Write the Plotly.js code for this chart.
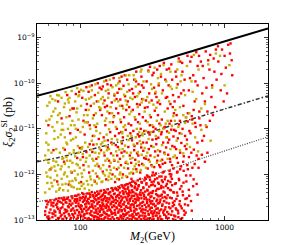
<!DOCTYPE html>
<html><head><meta charset="utf-8">
<script src="https://cdn.plot.ly/plotly-3.0.1.min.js"></script>
<style>html,body{margin:0;padding:0;background:#fff}#c{width:298px;height:245px}</style>
</head><body><div id="c"></div>
<script>
// Limit curves (M2 in GeV, xi2*sigma2^SI in pb)
const solidM = [50, 100, 286, 760, 2000];
const solidS = [5.3e-11, 9.6e-11, 2.55e-10, 6.4e-10, 1.6e-9];
const dashDotM = [50, 74, 214, 570, 2000];
const dashDotS = [1.9e-12, 2.43e-12, 5.94e-12, 1.58e-11, 5.3e-11];
const dotM = [50, 165, 748, 2000];
const dotS = [2.52e-13, 5.05e-13, 2.43e-12, 6.67e-12];

// Red points below the dotted curve
const redLow = [
[57,1.3e-13],[59,2.2e-13],[60,1.05e-13],[62,1.7e-13],[58,2.6e-13],[61,1.45e-13],[63,2.4e-13],[60,1.2e-13],
[64,1.15e-13],[65,2.0e-13],[66,2.7e-13],[67,1.5e-13],[68,1.0e-13],[69,2.3e-13],[70,1.75e-13],[65,1.35e-13],[68,2.9e-13],[70,1.1e-13],
[72,1.6e-13],[72,2.5e-13],[73,1.2e-13],[74,3.0e-13],[75,1.9e-13],[76,1.05e-13],[76,2.2e-13],[77,1.4e-13],[78,2.8e-13],[78,1.7e-13],[74,1.3e-13],
[80,1.1e-13],[80,2.4e-13],[81,1.55e-13],[82,3.1e-13],[83,1.9e-13],[84,1.25e-13],[84,2.7e-13],[85,1.02e-13],[86,2.1e-13],[86,1.6e-13],[87,3.3e-13],[88,1.35e-13],[88,2.3e-13],
[89,1.8e-13],[90,1.15e-13],[91,2.6e-13],[92,1.4e-13],[92,3.4e-13],[93,2.0e-13],[94,1.05e-13],[95,2.9e-13],[95,1.65e-13],[96,1.25e-13],[97,2.3e-13],[97,3.6e-13],[98,1.5e-13],[99,1.9e-13],[99,2.7e-13],
[101,1.2e-13],[101,2.1e-13],[102,3.0e-13],[103,1.5e-13],[104,1.02e-13],[104,2.5e-13],[105,3.7e-13],[106,1.75e-13],[106,1.3e-13],[107,2.8e-13],[108,2.2e-13],[108,1.1e-13],[109,3.3e-13],[110,1.6e-13],[110,1.95e-13],[111,2.6e-13],[111,1.4e-13],[103,3.9e-13],
[113,1.7e-13],[113,2.9e-13],[114,1.1e-13],[115,2.3e-13],[115,3.8e-13],[116,1.4e-13],[117,1.95e-13],[117,3.2e-13],[118,1.03e-13],[119,2.6e-13],[119,1.55e-13],[120,4.1e-13],[121,2.1e-13],[121,1.25e-13],[122,3.5e-13],[123,1.8e-13],[124,2.45e-13],[124,1.15e-13],[125,3.0e-13],[125,1.45e-13],
[127,2.0e-13],[127,1.2e-13],[128,3.4e-13],[129,1.6e-13],[129,2.7e-13],[130,1.02e-13],[131,4.2e-13],[131,2.25e-13],[132,1.35e-13],[133,3.0e-13],[133,1.8e-13],[134,1.1e-13],[135,2.5e-13],[135,3.8e-13],[136,1.5e-13],[137,2.1e-13],[137,1.25e-13],[138,3.2e-13],[139,1.7e-13],[139,4.4e-13],[140,2.8e-13],[140,1.05e-13],
[142,1.3e-13],[142,2.4e-13],[143,3.6e-13],[144,1.7e-13],[145,1.02e-13],[145,2.9e-13],[146,4.5e-13],[147,2.0e-13],[147,1.45e-13],[148,3.3e-13],[149,1.15e-13],[150,2.6e-13],[150,1.85e-13],[151,4.0e-13],[152,1.35e-13],[152,2.2e-13],[153,3.0e-13],[154,1.6e-13],[155,1.08e-13],[155,4.7e-13],[156,2.45e-13],[157,1.95e-13],[157,3.7e-13],
[159,1.25e-13],[159,2.8e-13],[160,1.7e-13],[161,4.1e-13],[162,2.2e-13],[162,1.05e-13],[163,3.4e-13],[164,1.5e-13],[165,2.5e-13],[165,5.0e-13],[166,1.9e-13],[167,1.15e-13],[168,3.0e-13],[168,4.4e-13],[169,1.4e-13],[170,2.1e-13],[171,3.7e-13],[171,1.02e-13],[172,2.7e-13],[173,1.65e-13],[174,4.9e-13],[175,1.3e-13],[176,2.35e-13],[177,3.2e-13],
[179,1.8e-13],[179,4.6e-13],[180,1.1e-13],[181,2.6e-13],[182,3.5e-13],[183,1.45e-13],[184,2.1e-13],[185,5.3e-13],[186,1.03e-13],[186,3.0e-13],[187,1.7e-13],[188,4.0e-13],[189,2.4e-13],[190,1.25e-13],[191,3.3e-13],[192,1.95e-13],[193,5.8e-13],[193,1.55e-13],[194,2.8e-13],[195,1.07e-13],[196,4.3e-13],[197,2.2e-13],[198,1.35e-13],[199,3.7e-13],[199,5.1e-13],
[201,1.2e-13],[202,2.5e-13],[203,4.8e-13],[204,1.6e-13],[205,3.2e-13],[206,1.02e-13],[207,2.0e-13],[208,6.0e-13],[209,1.4e-13],[210,3.8e-13],[211,2.7e-13],[212,1.1e-13],[213,1.85e-13],[214,5.2e-13],[215,2.3e-13],[216,1.5e-13],[217,3.5e-13],[218,4.4e-13],[219,1.25e-13],[220,2.9e-13],[221,6.5e-13],[222,1.75e-13],[223,2.15e-13],[223,4.0e-13],[205,1.3e-13],
[225,1.6e-13],[226,3.0e-13],[227,1.05e-13],[228,5.5e-13],[229,2.2e-13],[230,1.35e-13],[231,4.1e-13],[232,2.6e-13],[233,7.0e-13],[234,1.2e-13],[235,1.9e-13],[236,3.4e-13],[237,1.5e-13],[238,5.0e-13],[239,2.4e-13],[240,1.08e-13],[241,3.8e-13],[242,1.75e-13],[243,6.2e-13],[244,2.8e-13],[245,1.3e-13],[246,4.6e-13],[247,2.05e-13],[248,1.02e-13],[249,3.2e-13],[250,7.4e-13],
[252,1.4e-13],[253,2.7e-13],[254,5.8e-13],[255,1.15e-13],[257,3.6e-13],[258,1.8e-13],[259,8.0e-13],[260,2.3e-13],[262,1.03e-13],[263,4.5e-13],[264,1.55e-13],[265,3.0e-13],[267,6.6e-13],[268,2.0e-13],[269,1.25e-13],[270,3.9e-13],[272,2.5e-13],[273,5.2e-13],[274,1.7e-13],[275,1.08e-13],[276,3.3e-13],[278,7.4e-13],[279,2.15e-13],[280,1.4e-13],[281,4.2e-13],[281,8.5e-13],
[283,1.2e-13],[284,3.1e-13],[286,1.9e-13],[287,6.0e-13],[289,1.02e-13],[290,2.5e-13],[291,4.6e-13],[293,1.55e-13],[294,9.0e-13],[296,3.6e-13],[297,2.1e-13],[298,1.3e-13],[300,5.4e-13],[301,2.8e-13],[303,1.7e-13],[304,7.6e-13],[305,1.1e-13],[307,4.0e-13],[308,2.3e-13],[309,1.45e-13],[311,3.3e-13],[312,6.8e-13],[313,1.85e-13],[315,2.6e-13],[315,9.5e-13],
[317,1.35e-13],[318,4.3e-13],[320,2.2e-13],[322,1.05e-13],[323,7.0e-13],[325,3.0e-13],[327,1.6e-13],[329,5.6e-13],[330,2.0e-13],[332,1.25e-13],[334,1.05e-12],[335,3.7e-13],[337,2.6e-13],[339,1.45e-13],[341,8.2e-13],[342,4.8e-13],[344,1.8e-13],[346,1.1e-13],[348,3.3e-13],[350,6.2e-13],[352,2.35e-13],[354,1.6e-13],
[357,1.2e-13],[359,2.8e-13],[361,5.0e-13],[363,1.7e-13],[365,9.0e-13],[367,3.6e-13],[369,1.03e-13],[371,2.2e-13],[373,6.8e-13],[375,1.45e-13],[377,4.2e-13],[379,1.15e-12],[381,2.6e-13],[383,1.3e-13],[385,7.8e-13],[387,3.2e-13],[389,1.9e-13],[392,5.6e-13],[394,1.1e-13],[396,2.4e-13],
[400,1.5e-13],[403,3.5e-13],[406,7.2e-13],[409,1.1e-13],[412,2.3e-13],[415,1.2e-12],[418,4.6e-13],[421,1.8e-13],[424,9.0e-13],[427,1.3e-13],[430,3.0e-13],[433,5.8e-13],[436,2.0e-13],[439,1.05e-13],[442,1.35e-12],[445,4.0e-13],
[450,2.6e-13],[455,1.2e-13],[459,6.4e-13],[463,1.7e-13],[468,1.1e-12],[472,3.4e-13],[477,1.4e-13],[482,8.0e-13],[486,2.2e-13],[491,4.8e-13],[495,1.05e-13],[499,1.5e-12],
[505,1.8e-13],[512,4.2e-13],[520,1.2e-12],[527,1.3e-13],[535,2.9e-13],[543,7.0e-13],[551,1.6e-12],[558,2.1e-13],
[568,3.4e-13],[580,9.5e-13],[592,1.6e-13],[605,5.5e-13],[620,1.7e-12],
[640,6.2e-13],[660,1.4e-12],[650,3.6e-13],[730,1.9e-12]
];
const redLow2 = [
[58,1.9e-13],[71,1.1e-13],[63,2.1e-13],[85,2.6e-13],[67,1.25e-13],[79,1.5e-13],[60,2.5e-13],[89,1.3e-13],[74,2.4e-13],[66,1.6e-13],[82,2.0e-13],[59,1.15e-13],[77,3.1e-13],[70,2.6e-13],[87,1.7e-13],[64,1.4e-13],[81,2.9e-13],[69,1.9e-13],[75,1.05e-13],[84,2.25e-13],[62,2.7e-13],[78,1.2e-13],[73,1.8e-13],[88,3.0e-13],[65,2.35e-13],[80,1.65e-13],[61,1.08e-13],[76,2.75e-13],[86,1.1e-13],[68,2.15e-13],[72,1.45e-13],[83,1.35e-13],[57,1.55e-13],[79,2.45e-13],[71,3.0e-13],
[93,2.4e-13],[118,1.3e-13],[104,3.2e-13],[137,2.0e-13],[96,1.1e-13],[126,3.9e-13],[110,2.3e-13],[145,1.5e-13],[99,3.1e-13],[131,1.15e-13],[115,1.8e-13],[141,3.4e-13],[91,1.6e-13],[122,2.6e-13],[107,1.35e-13],[149,4.2e-13],[102,2.0e-13],[134,2.95e-13],[112,1.05e-13],[128,1.7e-13],[94,3.4e-13],[139,1.25e-13],[117,3.6e-13],[106,2.65e-13],[144,2.2e-13],[98,1.45e-13],[124,1.02e-13],[133,3.7e-13],[109,1.9e-13],[147,1.1e-13],[92,2.85e-13],[120,2.2e-13],[138,4.3e-13],[114,2.9e-13],[101,1.75e-13],[129,1.45e-13],[143,2.7e-13],[97,2.05e-13],[123,3.3e-13],[111,3.8e-13],[136,1.6e-13],[105,1.2e-13],[148,3.1e-13],[119,1.55e-13],[95,2.6e-13],[132,2.4e-13],[108,3.05e-13],[140,1.85e-13],[116,1.02e-13],[127,2.85e-13],[100,1.3e-13],[146,3.9e-13],[121,1.95e-13],[135,1.05e-13],[113,2.45e-13],[103,1.6e-13],[142,2.05e-13],[125,1.2e-13],[130,3.5e-13],[150,1.35e-13],
[163,2.3e-13],[211,1.4e-13],[182,4.5e-13],[238,2.9e-13],[155,1.25e-13],[197,3.1e-13],[224,5.8e-13],[171,1.05e-13],[245,1.7e-13],[189,2.05e-13],[158,3.9e-13],[206,4.2e-13],[231,1.15e-13],[176,2.8e-13],[215,2.4e-13],[162,1.6e-13],[249,4.9e-13],[193,1.2e-13],[227,3.4e-13],[168,4.6e-13],[202,1.75e-13],[240,6.5e-13],[185,3.6e-13],[153,2.05e-13],[219,1.05e-13],[178,1.9e-13],[234,2.15e-13],[196,5.4e-13],[166,3.2e-13],[209,2.95e-13],[243,1.35e-13],[174,1.45e-13],[228,4.5e-13],[191,2.6e-13],[157,1.7e-13],[217,3.9e-13],[183,1.08e-13],[247,3.6e-13],[200,2.2e-13],[169,2.5e-13],[236,1.6e-13],[187,5.0e-13],[213,6.1e-13],[160,1.02e-13],[222,1.9e-13],[180,3.35e-13],[205,1.3e-13],[242,2.45e-13],[173,3.8e-13],[229,7.0e-13],[194,1.65e-13],[152,2.7e-13],[214,3.3e-13],[186,2.3e-13],[246,1.05e-13],[199,4.0e-13],[165,1.35e-13],[233,4.1e-13],[208,1.95e-13],[177,4.9e-13],[220,2.65e-13],[190,1.15e-13],[239,5.4e-13],[159,3.0e-13],[226,1.25e-13],[203,5.7e-13],[172,2.0e-13],[248,2.8e-13],[184,1.55e-13],[212,4.8e-13],
[262,3.5e-13],[318,1.2e-13],[287,6.4e-13],[356,2.5e-13],[271,1.45e-13],[334,4.4e-13],[389,8.8e-13],[298,2.0e-13],[253,5.5e-13],[345,1.05e-13],[306,3.2e-13],[378,1.6e-13],[281,1.02e-13],[329,7.8e-13],[267,2.4e-13],[364,5.6e-13],[312,1.55e-13],[395,3.0e-13],[258,1.25e-13],[341,2.8e-13],[292,4.4e-13],[373,1.1e-12],[276,3.6e-13],[322,2.25e-13],[351,1.4e-13],[302,8.6e-13],[384,4.0e-13],[265,6.8e-13],[337,1.75e-13],[289,2.8e-13],[369,2.05e-13],[310,5.8e-13],[256,2.1e-13],[346,6.6e-13],[283,1.65e-13],[393,1.2e-13],[315,3.9e-13],[273,5.0e-13],[359,3.4e-13],[297,1.35e-13],[327,9.6e-13],[380,2.6e-13],[260,4.0e-13],[338,1.25e-13],[305,2.55e-13],[367,7.4e-13],[278,2.9e-13],[349,4.8e-13],[294,1.08e-13],[386,1.7e-13],[319,6.0e-13],[268,1.7e-13],[332,2.05e-13],[361,1.05e-13],[300,3.8e-13],[376,5.2e-13],[285,8.0e-13],[342,3.5e-13],[254,3.0e-13],[313,1.02e-13],[398,6.2e-13],[279,1.2e-13],[353,9.0e-13],[325,1.45e-13],[290,2.35e-13],[371,3.1e-13],[308,1.85e-13],[264,1.02e-13],[344,2.3e-13],[381,1.3e-13],
[412,1.9e-13],[468,4.0e-13],[431,8.0e-13],[523,1.6e-13],[405,5.0e-13],[489,2.6e-13],[447,1.25e-13],[541,9.5e-13],[418,3.1e-13],[502,5.5e-13],[459,1.8e-13],[427,1.0e-12],[565,4.6e-13],[478,1.15e-13],[438,2.4e-13],[514,3.5e-13],[409,1.35e-13],[492,1.3e-12],[453,6.2e-13],[531,2.2e-13],[421,6.8e-13],[475,1.6e-13],[556,1.3e-12],[441,4.1e-13],[508,1.1e-13],[463,2.9e-13],[416,1.02e-12],[548,3.0e-13],[484,7.5e-13],[433,1.55e-13],[519,6.6e-13],[456,1.0e-13],[497,2.0e-13],[424,4.5e-13],[537,1.45e-13],[471,1.15e-12],[446,2.15e-13],[585,2.6e-13],[610,7.8e-13],[598,1.4e-12]
];

// Red points between the dotted and dash-dotted curves
const redMid = [
[62,1.3e-12],[69,7.0e-13],[77,1.9e-12],[83,6.0e-13],[87,1.1e-12],
[95,2.3e-12],[101,6.8e-13],[105,1.6e-12],[110,3.1e-12],
[115,1.1e-12],[121,3.1e-12],[126,7.0e-13],[129,2.2e-12],[134,1.5e-12],[139,3.4e-12],
[143,1.15e-12],[147,2.6e-12],[151,7.8e-13],[155,3.9e-12],[159,1.5e-12],[163,2.9e-12],[167,1.0e-12],[172,2.0e-12],[176,4.4e-12],
[179,1.3e-12],[182,4.0e-12],[185,7.8e-13],[188,2.2e-12],[191,1.6e-12],[194,4.8e-12],[197,1.0e-12],[202,3.2e-12],[206,1.8e-12],[211,8.8e-13],[215,4.0e-12],[220,2.6e-12],
[225,1.8e-12],[228,5.6e-12],[232,1.05e-12],[236,3.4e-12],[240,2.1e-12],[244,1.3e-12],[248,4.8e-12],[252,2.6e-12],[256,6.8e-12],[260,1.1e-12],[264,3.9e-12],[268,1.7e-12],[272,5.0e-12],[277,2.3e-12],
[284,2.2e-12],[288,5.0e-12],[293,1.35e-12],[298,3.6e-12],[302,7.5e-12],[306,2.6e-12],[311,1.6e-12],[316,5.8e-12],[320,8.6e-12],[325,1.45e-12],[330,3.2e-12],[336,4.6e-12],[341,2.0e-12],[347,6.4e-12],[352,1.6e-12],
[357,3.2e-12],[363,7.6e-12],[369,2.1e-12],[375,5.0e-12],[381,1.05e-11],[387,1.8e-12],[393,3.9e-12],[399,8.8e-12],[406,2.7e-12],[413,5.8e-12],[420,1.9e-12],[427,9.6e-12],[434,4.2e-12],[442,6.8e-12],
[450,4.0e-12],[458,9.0e-12],[466,2.3e-12],[474,6.2e-12],[483,1.25e-11],[492,3.0e-12],[501,4.9e-12],[511,1.0e-11],[521,2.5e-12],[532,7.0e-12],[543,3.6e-12],[555,1.45e-11],
[566,2.4e-12],[580,8.0e-12],[596,1.6e-11],[612,3.5e-12],[630,1.1e-11],[648,5.0e-12],[668,1.7e-11],[695,2.7e-12],
[720,7.0e-12],[760,3.0e-12],[790,1.5e-11],[830,2.0e-11],
[104,2.4e-12],[131,9.0e-13],[158,2.0e-12],[174,6.8e-13],[193,3.0e-12],[214,1.35e-12],[237,4.2e-12],[255,1.6e-12],[273,3.3e-12],[297,2.1e-12],[318,1.1e-12],[335,6.0e-12],[358,1.45e-12],[382,3.0e-12],[405,5.0e-12],[432,1.6e-12],[461,3.6e-12],[488,8.0e-12],[516,1.9e-12],[548,5.8e-12],[588,3.0e-12],[625,1.35e-11],[660,2.2e-12],[700,5.5e-12],[750,1.1e-11],[180,2.6e-12],[226,8.0e-13],[247,2.9e-12],[290,9.5e-13],[310,4.2e-12],[345,2.6e-12],[372,1.7e-12],[398,6.5e-12],[418,2.2e-12],[447,9.5e-12],[475,1.8e-12],[530,4.2e-12],[570,9.0e-12],[640,2.6e-12],[680,1.2e-11]
];

// Red points above the dash-dotted curve
const redHigh = [
[60,1.2e-11],[65,3.4e-12],[70,4.0e-11],[74,1.7e-11],[78,3.5e-12],[81,5.5e-11],[85,8.0e-12],[88,2.8e-11],
[90,2.8e-11],[93,5.8e-11],[96,9.5e-12],[99,3.8e-12],[103,4.8e-11],[105,1.5e-11],[107,7.5e-12],[110,8.2e-11],[111,3.5e-11],
[112,1.4e-11],[114,6.5e-11],[116,4.6e-12],[118,3.2e-11],[120,9.0e-11],[122,7.0e-12],[124,2.0e-11],[126,5.5e-11],[128,1.1e-11],[130,4.0e-11],[132,1.0e-10],[134,6.0e-12],[137,2.6e-11],[140,7.4e-11],
[141,2.0e-11],[143,8.5e-11],[145,6.5e-12],[147,4.2e-11],[149,1.2e-11],[151,1.15e-10],[153,3.2e-11],[155,5.6e-12],[157,6.0e-11],[159,2.2e-11],[161,8.5e-12],[163,9.0e-11],[165,3.8e-11],[168,1.4e-11],[170,1.3e-10],[172,5.4e-11],[174,7.0e-12],[177,2.8e-11],
[179,1.0e-11],[181,6.2e-11],[183,2.2e-11],[185,8.0e-12],[187,1.1e-10],[189,4.4e-11],[191,1.4e-11],[193,1.4e-10],[195,3.2e-11],[197,6.5e-12],[199,8.8e-11],[201,1.8e-11],[204,5.2e-11],[206,9.5e-12],[208,2.6e-11],[211,1.2e-10],[213,4.0e-11],[216,1.3e-11],[219,7.0e-11],[222,8.0e-12],
[225,1.2e-11],[228,7.5e-11],[231,2.6e-11],[233,9.0e-12],[236,1.2e-10],[239,5.0e-11],[241,1.6e-11],[244,1.8e-10],[247,3.5e-11],[250,7.6e-12],[253,9.5e-11],[256,2.1e-11],[259,6.5e-11],[262,1.0e-11],[265,1.4e-10],[268,4.5e-11],[271,1.8e-11],[274,8.0e-11],[277,9.0e-12],[280,2.9e-11],
[284,1.5e-11],[288,1.1e-10],[292,3.0e-11],[296,8.5e-12],[300,6.0e-11],[304,2.3e-10],[308,1.8e-11],[312,4.2e-11],[316,1.5e-10],[320,1.1e-11],[324,8.0e-11],[328,2.5e-11],[332,1.0e-11],[337,5.0e-11],[341,2.0e-10],[345,2.0e-11],[349,9.0e-11],[353,1.3e-11],
[357,3.5e-11],[362,1.4e-10],[367,1.6e-11],[373,7.0e-11],[379,2.8e-10],[385,1.1e-11],[391,4.8e-11],[397,2.0e-10],[403,2.8e-11],[409,9.0e-11],[415,1.3e-11],[421,3.5e-11],[427,2.6e-10],[433,1.2e-10],[439,5.5e-11],[445,2.2e-11],
[450,4.0e-11],[457,1.8e-10],[465,2.0e-11],[473,9.5e-11],[481,3.5e-10],[490,1.5e-11],[499,6.0e-11],[508,2.8e-10],[518,3.2e-11],[528,1.2e-10],[540,1.8e-11],[553,4.0e-10],
[565,7.0e-11],[578,3.0e-10],[592,1.9e-11],[606,1.5e-10],[620,4.0e-11],[636,4.8e-10],[650,9.0e-11],[668,2.4e-11],[685,3.0e-10],[700,6.0e-11],
[715,1.3e-10],[740,5.0e-10],[760,2.4e-11],[785,2.0e-10],[810,5.0e-11],[840,3.5e-10],[860,3.0e-11],[880,1.2e-10],
[900,6.5e-10],[950,1.6e-10],[985,4.0e-11],[1040,6.0e-11],[1090,4.5e-10],[1130,1.5e-10],[1100,7.5e-10],
[84,1.9e-11],[98,6.5e-11],[109,2.6e-11],[123,4.5e-12],[136,8.0e-11],[148,3.0e-11],[164,5.0e-12],[178,4.5e-11],[192,8.5e-12],[203,1.5e-10],[218,3.0e-11],[232,6.0e-11],[251,1.4e-11],[267,9.0e-11],[285,4.2e-11],[303,1.2e-11],[322,1.7e-10],[343,3.8e-11],[366,8.5e-12],[388,1.2e-10],[412,2.1e-10],[437,3.0e-11],[462,1.4e-10],[492,3.0e-10],[520,7.0e-11],[556,2.2e-11],[590,3.8e-10],[628,1.1e-10],[665,4.0e-10],[705,2.4e-10],[748,8.0e-11],[795,4.2e-10],[850,1.8e-10],[905,3.0e-10],[960,5.5e-10],[1020,2.2e-10],[1060,7.0e-10],[1120,3.2e-10],[116,1.2e-11],[154,9.5e-11],[171,1.9e-11],[186,7.5e-11],[243,1.1e-10],[258,3.4e-11],[296,1.9e-10],[330,6.0e-11],[355,2.4e-10],[400,5.0e-11],[425,1.5e-11],[480,5.0e-11],[510,1.8e-10],[575,1.3e-10],[610,2.6e-11],[650,2.4e-10],[730,4.0e-11],[770,3.2e-10],[820,9.0e-11],[870,5.5e-10],[940,7.0e-11],[1000,4.0e-10]
];

// Yellow points between the dotted and dash-dotted curves
const yelMid = [
[57,4.0e-13],[58,1.1e-12],[59,6.5e-13],[60,1.8e-12],[61,4.8e-13],[62,8.5e-13],[63,1.4e-12],[64,5.5e-13],[65,2.0e-12],[66,7.5e-13],[67,1.2e-12],[68,4.2e-13],[69,9.5e-13],[70,1.6e-12],[58,2.1e-12],[70,6.0e-13],
[72,5.0e-13],[73,1.3e-12],[74,8.0e-13],[75,2.2e-12],[76,4.5e-13],[77,1.0e-12],[78,1.7e-12],[79,6.2e-13],[80,2.4e-12],[81,9.0e-13],[82,4.4e-13],[83,1.45e-12],[84,7.0e-13],[85,2.0e-12],[86,1.15e-12],[87,5.4e-13],[88,1.8e-12],[75,6.0e-13],
[90,5.2e-13],[91,1.2e-12],[92,2.5e-12],[93,7.5e-13],[94,1.7e-12],[95,4.8e-13],[96,1.0e-12],[97,3.0e-12],[98,6.5e-13],[99,1.4e-12],[100,2.1e-12],[102,5.6e-13],[103,8.8e-13],[104,2.8e-12],[106,1.25e-12],[107,4.9e-13],[109,1.9e-12],[111,7.2e-13],
[113,6.0e-13],[114,1.5e-12],[116,2.6e-12],[117,9.0e-13],[119,3.5e-12],[120,5.8e-13],[122,1.2e-12],[123,2.0e-12],[125,7.4e-13],[127,3.0e-12],[128,1.05e-12],[130,6.3e-13],[131,1.7e-12],[133,2.4e-12],[135,8.2e-13],[136,3.7e-12],[138,1.35e-12],[140,6.8e-13],
[142,7.0e-13],[144,1.6e-12],[146,3.0e-12],[148,9.5e-13],[150,4.2e-12],[152,1.25e-12],[154,2.2e-12],[156,7.5e-13],[158,3.6e-12],[160,1.05e-12],[162,1.8e-12],[164,8.0e-13],[166,4.6e-12],[169,2.6e-12],[171,1.4e-12],[174,9.0e-13],[177,3.2e-12],
[180,8.0e-13],[183,1.9e-12],[186,3.5e-12],[189,1.1e-12],[192,5.2e-12],[195,8.5e-13],[198,2.5e-12],[201,1.4e-12],[204,4.3e-12],[207,9.2e-13],[210,3.0e-12],[213,1.7e-12],[216,5.7e-12],[219,1.05e-12],[222,2.2e-12],
[226,1.1e-12],[230,2.3e-12],[234,4.5e-12],[238,1.5e-12],[242,6.5e-12],[246,1.15e-12],[250,3.1e-12],[254,1.9e-12],[258,5.4e-12],[262,1.25e-12],[266,2.7e-12],[270,7.2e-12],[274,1.6e-12],[279,3.8e-12],
[285,1.4e-12],[291,3.0e-12],[297,6.0e-12],[303,1.9e-12],[309,8.5e-12],[315,1.5e-12],[321,4.0e-12],[327,2.4e-12],[333,7.0e-12],[339,1.8e-12],[345,3.4e-12],[351,9.0e-12],
[360,2.0e-12],[368,4.4e-12],[377,1.0e-11],[385,2.8e-12],[394,6.5e-12],[403,2.2e-12],[412,8.2e-12],[421,3.6e-12],[431,1.15e-11],[441,2.4e-12],
[452,2.6e-12],[465,5.5e-12],[478,1.1e-11],[490,3.4e-12],[503,7.8e-12],[517,2.9e-12],[532,1.35e-11],[548,4.6e-12],
[575,4.0e-12],[600,1.3e-11],[625,6.5e-12],[655,3.2e-12],[690,9.5e-12],[740,1.2e-11],[800,5.5e-12],
[59,9.0e-13],[66,1.5e-12],[71,4.6e-13],[63,6.5e-13],[78,1.1e-12],[85,5.8e-13],[68,1.9e-12],[92,8.2e-13],[74,1.5e-12],[81,2.0e-12],[96,1.6e-12],[102,1.05e-12],[88,7.2e-13],[110,2.3e-12],[61,1.25e-12],[118,7.8e-13],[127,1.55e-12],[135,2.9e-12],[99,4.8e-13],[144,1.05e-12],[153,3.4e-12],[121,2.2e-12],[162,1.25e-12],[171,2.1e-12],[139,4.6e-12],[184,1.4e-12],[196,3.6e-12],[115,4.5e-13],[208,1.9e-12],[224,3.0e-12],[157,9.0e-13],[243,1.7e-12],[264,4.6e-12],[187,1.0e-12],[286,2.5e-12],[233,1.3e-12],[76,2.3e-12],[90,3.0e-12],[105,6.2e-13],[149,2.0e-12]
];

// Yellow points above the dash-dotted curve
const yelHigh = [
[57,2.6e-12],[58,8.0e-12],[59,3.2e-11],[60,4.5e-12],[61,1.6e-11],[62,5.2e-11],[63,3.0e-12],[64,1.1e-11],[65,2.4e-11],[66,6.0e-12],[67,4.2e-11],[68,3.6e-12],[69,1.4e-11],[70,2.0e-11],[58,5.0e-12],[61,3.8e-11],[66,9.0e-12],[69,5.5e-11],
[72,3.0e-12],[72,2.2e-11],[73,7.5e-12],[74,4.8e-11],[75,1.3e-11],[76,3.8e-12],[77,3.0e-11],[78,6.5e-12],[79,6.4e-11],[80,1.8e-11],[81,4.6e-12],[82,1.0e-11],[83,3.8e-11],[84,2.9e-12],[85,2.6e-11],[86,5.6e-12],[87,6.8e-11],[88,1.5e-11],[76,9.5e-12],[84,4.8e-11],
[90,3.4e-12],[91,1.2e-11],[92,4.0e-11],[93,6.5e-12],[94,2.3e-11],[95,7.8e-11],[96,4.2e-12],[97,1.6e-11],[98,5.5e-11],[100,8.5e-12],[101,3.2e-11],[102,3.6e-12],[104,1.1e-11],[105,6.8e-11],[106,2.0e-11],[108,5.0e-12],[109,4.4e-11],[111,1.4e-11],
[113,4.0e-12],[114,2.6e-11],[116,8.5e-11],[117,1.0e-11],[119,5.0e-11],[120,5.5e-12],[122,1.7e-11],[124,3.6e-11],[125,7.0e-12],[127,9.5e-11],[128,2.2e-11],[130,4.6e-12],[131,1.3e-11],[133,6.2e-11],[135,3.0e-11],[137,8.0e-12],[139,4.5e-11],
[142,5.0e-12],[144,3.6e-11],[146,1.1e-10],[148,1.5e-11],[150,6.8e-11],[152,7.5e-12],[154,2.4e-11],[156,4.8e-11],[158,9.8e-12],[160,1.2e-10],[162,3.0e-11],[165,6.0e-12],[167,8.2e-11],[170,1.8e-11],[173,4.2e-11],[176,1.1e-11],
[180,5.8e-12],[183,4.0e-11],[186,1.3e-10],[189,1.6e-11],[192,7.5e-11],[195,8.5e-12],[198,2.8e-11],[201,5.6e-11],[204,1.2e-11],[207,1.5e-10],[210,3.4e-11],[213,7.0e-12],[216,9.5e-11],[219,2.1e-11],[222,4.8e-11],
[226,7.0e-12],[230,4.5e-11],[234,1.5e-10],[238,1.8e-11],[242,8.5e-11],[246,1.0e-11],[250,3.0e-11],[254,6.0e-11],[258,1.3e-11],[262,1.8e-10],[266,3.8e-11],[270,8.0e-12],[274,1.1e-10],[279,2.4e-11],
[285,9.0e-12],[291,5.0e-11],[297,1.8e-10],[303,2.0e-11],[309,9.5e-11],[315,1.2e-11],[321,3.4e-11],[327,2.2e-10],[333,6.5e-11],[339,1.5e-11],[345,1.3e-10],[351,4.2e-11],
[360,1.2e-11],[368,6.0e-11],[377,2.5e-10],[385,2.4e-11],[394,1.1e-10],[403,1.5e-11],[412,4.0e-11],[421,1.8e-10],[431,7.5e-11],[441,1.9e-11],
[452,1.5e-11],[465,8.0e-11],[478,3.0e-10],[490,3.0e-11],[503,1.5e-10],[517,2.0e-11],[532,5.5e-11],[548,2.4e-10],
[570,2.2e-11],[590,1.1e-10],[612,4.2e-10],[635,4.5e-11],[660,2.0e-10],[690,2.8e-11],
[730,3.5e-11],[770,2.6e-10],[820,8.0e-11],[870,4.5e-10],[930,4.0e-10],[1000,9.0e-11],[1080,2.5e-10],
[60,3.4e-12],[67,2.8e-11],[74,9.5e-12],[82,4.4e-11],[63,1.9e-11],[89,6.0e-12],[95,2.8e-11],[70,6.5e-12],[103,4.0e-12],[78,3.6e-11],[112,2.0e-11],[86,1.2e-11],[120,7.0e-11],[64,4.5e-11],[129,9.0e-12],[97,5.2e-11],[138,2.8e-11],[107,1.4e-11],[147,5.5e-12],[156,7.2e-11],[115,4.6e-11],[166,2.2e-11],[125,1.2e-11],[177,9.0e-11],[188,3.2e-11],[143,5.0e-11],[199,1.1e-11],[211,6.5e-11],[160,1.4e-11],[225,2.4e-11],[240,1.2e-10],[172,5.8e-11],[256,8.5e-12],[273,4.4e-11],[195,8.0e-12],[292,1.4e-11],[314,7.5e-11],[218,1.5e-10],[336,2.9e-11],[362,1.6e-10],[248,5.2e-11],[390,1.3e-11],[420,8.5e-11],[300,3.8e-11],[455,2.6e-11],[495,1.1e-10],[540,1.8e-11],[58,1.5e-11],[71,5.4e-11],[80,5.0e-12],[93,1.0e-11],[101,7.2e-11],[133,4.0e-11],[151,1.7e-11],[183,1.0e-10],[206,4.2e-11],[265,2.0e-10],[350,1.0e-10],[470,2.0e-10],[600,6.5e-11]
];

const xTickVals = [100, 1000];
const xTickText = ['100', '1000'];
const yTickVals = [1e-13, 1e-12, 1e-11, 1e-10, 1e-9];
const yTickText = ['10<sup>\u221213</sup>', '10<sup>\u221212</sup>', '10<sup>\u221211</sup>', '10<sup>\u221210</sup>', '10<sup>\u22129</sup>'];

const RED = '#ff0000', YEL = '#c4b000';
const xs = a => a.map(p => p[0]);
const ys = a => a.map(p => p[1]);
const allRed = redLow.concat(redLow2, redMid, redHigh);
const allYel = yelMid.concat(yelHigh);

const xMinor = [], yMinor = [];
for (let e = 1; e <= 3; e++) for (let k = 2; k <= 9; k++) xMinor.push(k * Math.pow(10, e));
for (let e = -13; e <= -9; e++) for (let k = 2; k <= 9; k++) yMinor.push(k * Math.pow(10, e));

const mk = (c) => ({color: c, size: 2.4, symbol: 'square', line: {width: 0}});
const traces = [
  {x: dotM, y: dotS, mode: 'lines', line: {color: '#444', width: 1.2, dash: '1px,1.4px', shape: 'spline'}, hoverinfo: 'skip'},
  {x: dashDotM, y: dashDotS, mode: 'lines', line: {color: '#333', width: 1.5, dash: '4px,2px,1.5px,2px', shape: 'spline'}, hoverinfo: 'skip'},
  {x: xs(allRed), y: ys(allRed), mode: 'markers', marker: mk(RED)},
  {x: xs(allYel), y: ys(allYel), mode: 'markers', marker: mk(YEL)},
  {x: solidM, y: solidS, mode: 'lines', line: {color: '#000', width: 2, shape: 'spline'}, hoverinfo: 'skip'}
];

const axBase = {
  type: 'log', showgrid: false, zeroline: false, showline: true, linecolor: '#000', linewidth: 1,
  mirror: 'allticks', ticks: 'inside', ticklen: 4, tickwidth: 0.8, tickcolor: '#000',
  tickfont: {family: 'DejaVu Sans', size: 7.5, color: '#000'}
};
const layout = {
  width: 298, height: 245,
  margin: {l: 37, r: 30, t: 24, b: 25},
  paper_bgcolor: '#fff', plot_bgcolor: '#fff', showlegend: false,
  xaxis: Object.assign({}, axBase, {
    range: [Math.log10(50), Math.log10(2000)],
    tickmode: 'array', tickvals: xTickVals, ticktext: xTickText,
    minor: {tickmode: 'array', tickvals: xMinor, ticks: 'inside', ticklen: 2, tickcolor: '#000', tickwidth: 0.6},
    title: {text: '<i>M</i><sub>2</sub>(GeV)', font: {family: 'Liberation Serif', size: 12, color: '#000'}, standoff: 4}
  }),
  yaxis: Object.assign({}, axBase, {
    range: [-13, Math.log10(2e-9)],
    tickmode: 'array', tickvals: yTickVals, ticktext: yTickText,
    minor: {tickmode: 'array', tickvals: yMinor, ticks: 'inside', ticklen: 2, tickcolor: '#000', tickwidth: 0.6},
    title: {text: '<i>\u03be</i><sub>2</sub><i>\u03c3</i><sub>2</sub><sup>SI</sup> (pb)', font: {family: 'Liberation Serif', size: 12, color: '#000'}, standoff: 2}
  })
};
Plotly.newPlot('c', traces, layout, {displayModeBar: false, staticPlot: true});
</script>
</body></html>
